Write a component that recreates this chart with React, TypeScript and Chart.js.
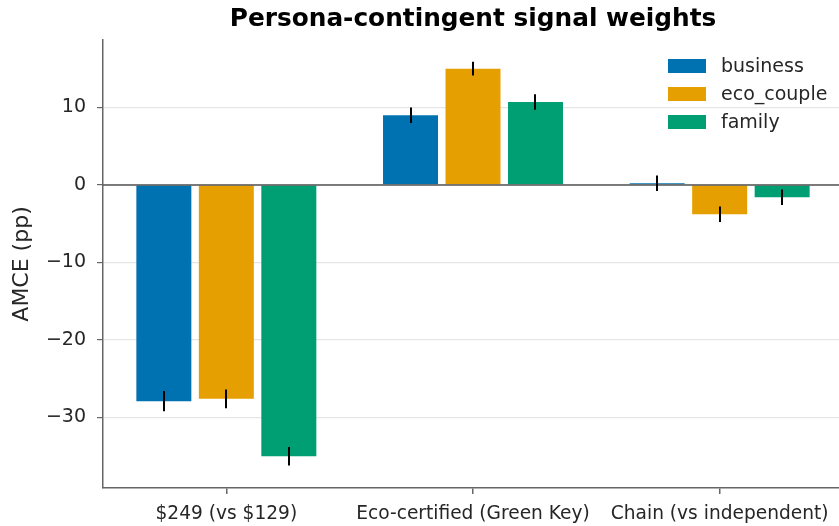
import React, { useEffect, useRef } from "react";
import { Chart, registerables } from "chart.js";

Chart.register(...registerables);

const categories = ["$249 (vs $129)", "Eco-certified (Green Key)", "Chain (vs independent)"];
const seriesNames = ["business", "eco_couple", "family"];
const seriesColors = ["#0072B2", "#E69F00", "#009E73"];
const businessValues = [-27.9, 9.0, 0.2];
const ecoCoupleValues = [-27.6, 15.0, -3.8];
const familyValues = [-35.0, 10.7, -1.6];
const businessErrors = [1.3, 1.0, 1.0];
const ecoCoupleErrors = [1.2, 0.9, 1.0];
const familyErrors = [1.2, 1.0, 1.0];
const yTicks = [-30, -20, -10, 0, 10];
const yMin = -39.1;
const yMax = 18.7;

const allValues = [businessValues, ecoCoupleValues, familyValues];
const allErrors = [businessErrors, ecoCoupleErrors, familyErrors];

const FONT = "'DejaVu Sans', sans-serif";

const overlayPlugin = {
  id: "overlay",
  afterDatasetsDraw(chart: any) {
    const ctx = chart.ctx;
    const ys = chart.scales.y;
    const area = chart.chartArea;
    ctx.save();
    const y0 = ys.getPixelForValue(0);
    ctx.strokeStyle = "#555555";
    ctx.lineWidth = 1.5;
    ctx.beginPath();
    ctx.moveTo(area.left, y0);
    ctx.lineTo(area.right, y0);
    ctx.stroke();
    ctx.strokeStyle = "#000000";
    ctx.lineWidth = 2;
    chart.data.datasets.forEach((ds: any, di: number) => {
      const meta = chart.getDatasetMeta(di);
      meta.data.forEach((el: any, i: number) => {
        const v = ds.data[i];
        const e = allErrors[di][i];
        const x = Math.round(el.x);
        ctx.beginPath();
        ctx.moveTo(x, ys.getPixelForValue(v - e));
        ctx.lineTo(x, ys.getPixelForValue(v + e));
        ctx.stroke();
      });
    });
    const lx = 668;
    const ly0 = 66;
    const step = 28;
    ctx.font = `19px ${FONT}`;
    ctx.textBaseline = "middle";
    ctx.textAlign = "left";
    chart.data.datasets.forEach((ds: any, di: number) => {
      const cy = ly0 + di * step;
      ctx.fillStyle = ds.backgroundColor;
      ctx.fillRect(lx, cy - 7, 38, 14);
      ctx.fillStyle = "#262626";
      ctx.fillText(ds.label, lx + 53, cy + 1);
    });
    ctx.restore();
  },
};

export default function App() {
  const ref = useRef<HTMLCanvasElement | null>(null);
  useEffect(() => {
    if (!ref.current) return;
    const chart = new Chart(ref.current, {
      type: "bar",
      data: {
        labels: categories,
        datasets: seriesNames.map((name, i) => ({
          label: name,
          data: allValues[i],
          backgroundColor: seriesColors[i],
          borderWidth: 0,
          categoryPercentage: 0.76,
          barPercentage: 0.88,
        })),
      },
      options: {
        animation: false,
        responsive: false,
        maintainAspectRatio: false,
        layout: { padding: 0 },
        plugins: {
          legend: { display: false },
          tooltip: { enabled: false },
          title: {
            display: true,
            text: "Persona-contingent signal weights",
            fullSize: false,
            color: "#000000",
            font: { family: FONT, size: 24.8, weight: "bold" },
            padding: { top: 5, bottom: 5.2 },
          },
        },
        scales: {
          x: {
            offset: true,
            grid: { display: true, drawOnChartArea: false, drawTicks: true, tickLength: 6, offset: false, color: "#666666", lineWidth: 1.5 },
            border: { display: true, color: "#666666", width: 1.5 },
            ticks: { color: "#262626", font: { family: FONT, size: 18.6 }, padding: 9, maxRotation: 0, autoSkip: false },
            afterFit: (s: any) => { s.height = 38; },
          },
          y: {
            min: yMin,
            max: yMax,
            afterBuildTicks: (s: any) => { s.ticks = yTicks.map((v) => ({ value: v })); },
            grid: {
              color: "#e5e5e5",
              lineWidth: 1.2,
              tickColor: "#666666",
              tickLength: 6,
              drawTicks: true,
            },
            border: { display: true, color: "#666666", width: 1.5 },
            ticks: {
              color: "#262626",
              font: { family: FONT, size: 19 },
              padding: 11,
              callback: (v: any) => (Number(v) < 0 ? "\u2212" + Math.abs(Number(v)) : String(v)),
            },
            title: {
              display: true,
              text: "AMCE (pp)",
              color: "#262626",
              font: { family: FONT, size: 22 },
              padding: { top: 9, bottom: 0 },
            },
            afterFit: (s: any) => { s.width = 103; },
          },
        },
      },
      plugins: [overlayPlugin],
    });
    return () => chart.destroy();
  }, []);
  return (
    <div style={{ position: "fixed", left: 0, top: 0, width: 839, height: 526, overflow: "hidden", background: "#ffffff" }}>
      <canvas ref={ref} width={843} height={526} style={{ width: 843, height: 526, display: "block" }} />
    </div>
  );
}
